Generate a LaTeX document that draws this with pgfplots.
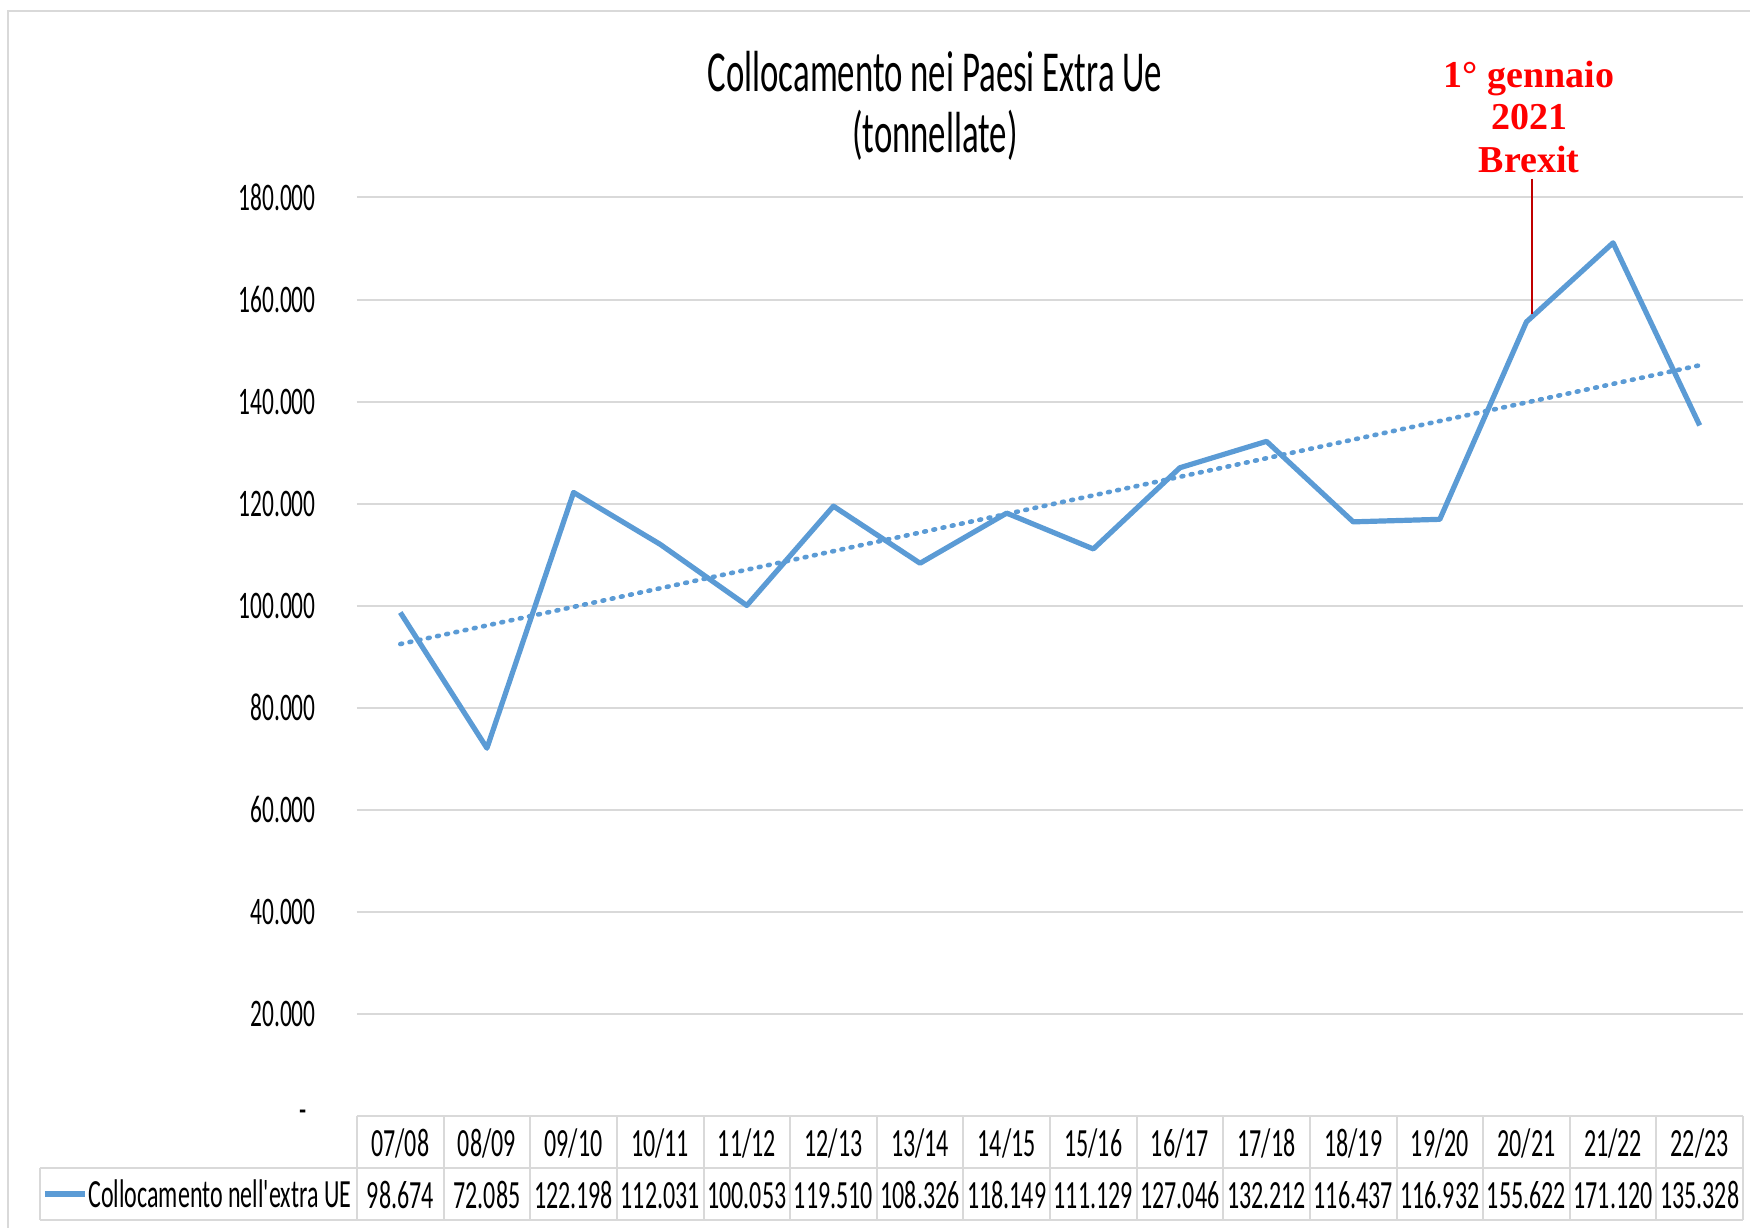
\documentclass[border=0pt]{standalone}
\usepackage{pgfplots}
\usepackage{pgfplotstable}
\pgfplotsset{compat=1.18}
\usepackage{fontspec}
\setmainfont[FakeStretch=0.6]{Carlito}
\newfontfamily\annfont{Liberation Serif}
\definecolor{xlBlue}{HTML}{5B9BD5}
\definecolor{xlGrid}{HTML}{D9D9D9}
\definecolor{xlDark}{HTML}{C00000}

\pgfplotstableread{
idx val
0 98674
1 72085
2 122198
3 112031
4 100053
5 119510
6 108326
7 118149
8 111129
9 127046
10 132212
11 116437
12 116932
13 155622
14 171120
15 135328
}\extraue

\begin{document}
\begin{tikzpicture}
\useasboundingbox (-178.5pt,-55.5pt) rectangle (696.5pt,558pt);
% outer frame (left and top)
\draw[xlGrid, line width=1.2pt] (-174.5pt,-60pt) -- (-174.5pt,552.5pt) -- (700pt,552.5pt);
\begin{axis}[
  scale only axis,
  width=693pt, height=459.25pt,
  xmin=-0.5, xmax=15.5,
  ymin=0, ymax=180000,
  scaled y ticks=false,
  clip=false,
  axis line style={draw=none},
  major tick length=0pt,
  ymajorgrids,
  grid style={xlGrid, line width=1pt},
  ytick={0,20000,...,180000},
  yticklabels={{-\kern4.5pt},20.000,40.000,60.000,80.000,100.000,120.000,140.000,160.000,180.000},
  yticklabel style={font=\fontsize{19.5}{20}\selectfont, anchor=east, inner sep=0pt, xshift=-20.5pt},
  xtick={0,...,15},
  xticklabels={
    {07/08\\98.674},{08/09\\72.085},{09/10\\122.198},{10/11\\112.031},
    {11/12\\100.053},{12/13\\119.510},{13/14\\108.326},{14/15\\118.149},
    {15/16\\111.129},{16/17\\127.046},{17/18\\132.212},{18/19\\116.437},
    {19/20\\116.932},{20/21\\155.622},{21/22\\171.120},{22/23\\135.328}},
  xticklabel style={font=\fontsize{20}{26}\selectfont, align=center, anchor=north, inner sep=0pt, yshift=-6pt},
]
\addplot[xlBlue, line width=2.6pt, line join=round] table[x=idx, y=val] {\extraue};
\addplot[xlBlue, line width=2.3pt, line cap=round, dash pattern=on 0.9pt off 3.8pt]
  table[x=idx, y={create col/linear regression={y=val}}] {\extraue};
\node[anchor=south, align=center, text=red, inner sep=0pt,
      font=\annfont\bfseries\fontsize{19}{21.2}\selectfont] at (axis cs:13.03,184800) {1° gennaio\\2021\\Brexit};
\draw[xlDark, line width=1pt] (axis cs:13.06,183700) -- (axis cs:13.06,157250);
\end{axis}
% data table grid
\draw[xlGrid, line width=1pt] (0pt,0pt) -- (693pt,0pt);
\draw[xlGrid, line width=1pt] (-158.5pt,-26pt) -- (693pt,-26pt);
\draw[xlGrid, line width=1pt] (-158.5pt,-52pt) -- (693pt,-52pt);
\draw[xlGrid, line width=1pt] (-158.5pt,-26pt) -- (-158.5pt,-52pt);
\foreach \k in {0,...,16} {
  \draw[xlGrid, line width=1pt] (\k*43.3125pt,0pt) -- (\k*43.3125pt,-52pt);
}
% legend key
\draw[xlBlue, line width=2.6pt] (-156pt,-39pt) -- (-136pt,-39pt);
\node[anchor=west, inner sep=0pt, font=\fontsize{20}{24}\selectfont] at (-134.5pt,-39pt) {Collocamento {\addfontfeature{Ligatures=TeXOff}nell'extra} UE};
% title
\node[align=center, font=\fontsize{29}{30.7}\selectfont] at (289pt,505pt) {Collocamento nei Paesi Extra Ue\\(tonnellate)};
\end{tikzpicture}
\end{document}
